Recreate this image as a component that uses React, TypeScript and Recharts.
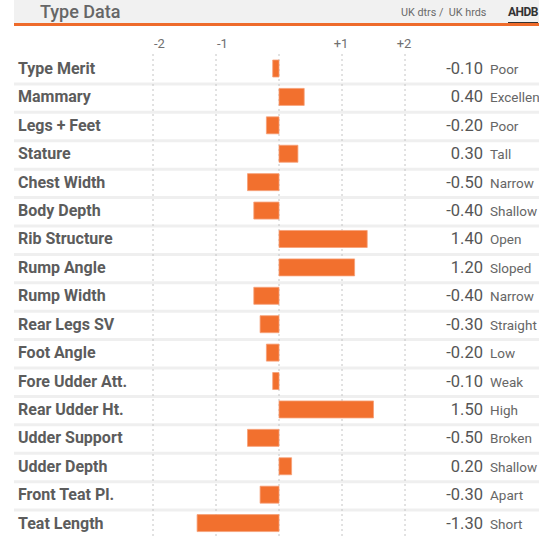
import React from 'react';
import { BarChart, Bar, XAxis, YAxis, CartesianGrid, LabelList } from 'recharts';

const categories = [
  'Type Merit', 'Mammary', 'Legs + Feet', 'Stature', 'Chest Width', 'Body Depth',
  'Rib Structure', 'Rump Angle', 'Rump Width', 'Rear Legs SV', 'Foot Angle',
  'Fore Udder Att.', 'Rear Udder Ht.', 'Udder Support', 'Udder Depth',
  'Front Teat Pl.', 'Teat Length',
];
const values = [-0.1, 0.4, -0.2, 0.3, -0.5, -0.4, 1.4, 1.2, -0.4, -0.3, -0.2, -0.1, 1.5, -0.5, 0.2, -0.3, -1.3];
const descriptors = [
  'Poor', 'Excellent', 'Poor', 'Tall', 'Narrow', 'Shallow', 'Open', 'Sloped', 'Narrow',
  'Straight', 'Low', 'Weak', 'High', 'Broken', 'Shallow', 'Apart', 'Short',
];
const axisTicks = [-2, -1, 0, 1, 2];
const axisDomain = [-4, 4];
const title = 'Type Data';
const subtitle = 'UK dtrs /  UK hrds';
const brand = 'AHDB';

const data = categories.map((name, i) => ({ name, value: values[i], desc: descriptors[i] }));

const FONT = 'Roboto, "Noto Sans", sans-serif';
const ORANGE = '#F2702E';

const XTick = (props: any) => {
  const { x, payload } = props;
  const v = payload.value;
  if (v === 0) return null;
  const label = v > 0 ? `+${v}` : `${v}`;
  return (
    <text x={v < 0 ? x + 1 : x - 1} y={43} textAnchor={v < 0 ? 'start' : 'middle'} dominantBaseline="central"
      fontFamily={FONT} fontSize={13} fill="#707070">
      {label}
    </text>
  );
};

const RowLabels = (props: any) => {
  const { y, height, index, value } = props;
  const cy = y + height / 2;
  return (
    <g>
      <text x={18} y={cy} textAnchor="start" dominantBaseline="central"
        fontFamily={FONT} fontSize={16} fontWeight={700} fill="#5c5c5c">
        {data[index].name}
      </text>
      <text x={483} y={cy} textAnchor="end" dominantBaseline="central"
        fontFamily={FONT} fontSize={16.5} fill="#555555">
        {Number(value).toFixed(2)}
      </text>
      <text x={490} y={cy + 0.5} textAnchor="start" dominantBaseline="central"
        fontFamily={FONT} fontSize={13.5} fill="#666666">
        {data[index].desc}
      </text>
    </g>
  );
};

export default function App() {
  return (
    <div style={{ position: 'absolute', left: 0, top: 0, width: 539, height: 537, background: '#fff', overflow: 'hidden', fontFamily: FONT }}>
      <div style={{ position: 'absolute', left: 14, top: 0, width: 525, height: 24, background: '#f1f1f1' }} />
      <div style={{ position: 'absolute', left: 14, top: 23, width: 525, height: 3, background: '#EE6B2B' }} />
      <div style={{ position: 'absolute', left: 40, top: 0, height: 24, lineHeight: '24px', fontSize: 18, fontWeight: 500, color: '#666' }}>
        {title}
      </div>
      <div style={{ position: 'absolute', left: 401, top: 3, height: 20, lineHeight: '20px', fontSize: 10.8, color: '#6a6a6a', whiteSpace: 'pre' }}>
        {subtitle}
      </div>
      <div style={{ position: 'absolute', left: 508, top: 2, height: 20, lineHeight: '20px', fontSize: 12, fontWeight: 700, color: '#333', letterSpacing: -0.5, borderBottom: '1.5px solid #333' }}>
        {brand}
      </div>
      <div style={{ position: 'absolute', left: 0, top: 0 }}>
        <BarChart width={539} height={537} layout="vertical" data={data}
          margin={{ top: 34, right: 8, bottom: 0, left: 27 }} barCategoryGap={0}>
          <CartesianGrid horizontal={true} vertical={false} x={14} width={525}
            stroke="#efefef" strokeWidth={3}
            horizontalCoordinatesGenerator={({ offset }: any) =>
              categories.map((_, i) => offset.top + (offset.height * (i + 1)) / categories.length + 1.5)} />
          <CartesianGrid horizontal={false} vertical={true} stroke="#c4c4c4" strokeDasharray="2 3"
            verticalCoordinatesGenerator={({ xAxis, offset }: any) =>
              axisTicks.map((t) =>
                xAxis && typeof xAxis.scale === 'function'
                  ? xAxis.scale(t)
                  : offset.left + (offset.width * (t - axisDomain[0])) / (axisDomain[1] - axisDomain[0]))} />
          <XAxis type="number" orientation="top" height={20} domain={axisDomain} ticks={axisTicks}
            axisLine={false} tickLine={false} tick={<XTick />} interval={0} />
          <YAxis type="category" dataKey="name" width={0} axisLine={false} tickLine={false}
            tick={false} />
          <Bar dataKey="value" fill={ORANGE} barSize={17} isAnimationActive={false}
            stroke="#f6a077" strokeWidth={0.8}>
            <LabelList dataKey="value" content={<RowLabels />} />
          </Bar>
        </BarChart>
      </div>
    </div>
  );
}
